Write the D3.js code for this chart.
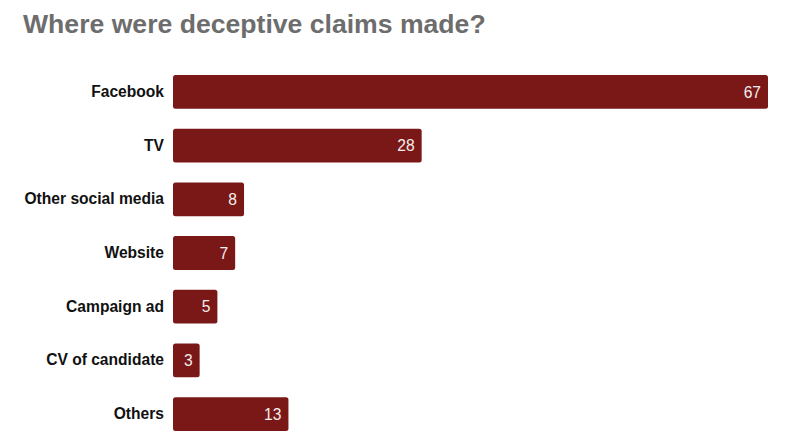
<!DOCTYPE html>
<html>
<head>
<meta charset="utf-8">
<script src="https://cdn.jsdelivr.net/npm/d3@7"></script>
<style>
  body { margin: 0; background: #fff; }
  svg { display: block; font-family: "Liberation Sans", Arial, sans-serif; }
</style>
</head>
<body>
<div id="chart"></div>
<script>
// DATA
const categories = ["Facebook", "TV", "Other social media", "Website", "Campaign ad", "CV of candidate", "Others"];
const values = [67, 28, 8, 7, 5, 3, 13];
const title = "Where were deceptive claims made?";

const width = 800, height = 448;
const margin = { top: 75, right: 32, bottom: 17, left: 173 };

const svg = d3.select("#chart").append("svg")
  .attr("width", width)
  .attr("height", height);

svg.append("text")
  .attr("x", 23)
  .attr("y", 33)
  .attr("fill", "#6d6d6d")
  .attr("font-size", "26.6px")
  .attr("font-weight", "bold")
  .text(title);

const g = svg.append("g")
  .attr("transform", `translate(${margin.left}, ${margin.top})`);

const innerWidth = width - margin.left - margin.right;
const innerHeight = height - margin.top - margin.bottom;

const xScale = d3.scaleLinear()
  .domain([0, d3.max(values)])
  .range([0, innerWidth]);

const yScale = d3.scaleBand()
  .domain(categories)
  .range([0, innerHeight])
  .paddingInner(0.37)
  .paddingOuter(0);

const data = categories.map((c, i) => ({ category: c, value: values[i] }));

// category labels
const yAxis = d3.axisLeft(yScale).tickSize(0).tickPadding(9);
const yAxisG = g.append("g").attr("class", "y-axis").call(yAxis);
yAxisG.select(".domain").remove();
yAxisG.selectAll("text")
  .attr("fill", "#111")
  .attr("font-size", "15.6px")
  .attr("font-weight", "bold")
  .attr("font-family", "'Liberation Sans', Arial, sans-serif");

g.selectAll(".bar").data(data)
  .enter().append("rect")
    .attr("class", "bar")
    .attr("x", 0)
    .attr("y", d => yScale(d.category))
    .attr("width", d => xScale(d.value))
    .attr("height", yScale.bandwidth())
    .attr("rx", 2.5)
    .attr("fill", "#7a1818");

g.selectAll(".bar-label").data(data)
  .enter().append("text")
    .attr("class", "bar-label")
    .attr("x", d => xScale(d.value) - 7)
    .attr("y", d => yScale(d.category) + yScale.bandwidth() / 2)
    .attr("dy", "0.36em")
    .attr("text-anchor", "end")
    .attr("fill", "#f4eeee")
    .attr("font-size", "15.6px")
    .text(d => d.value);
</script>
</body>
</html>
